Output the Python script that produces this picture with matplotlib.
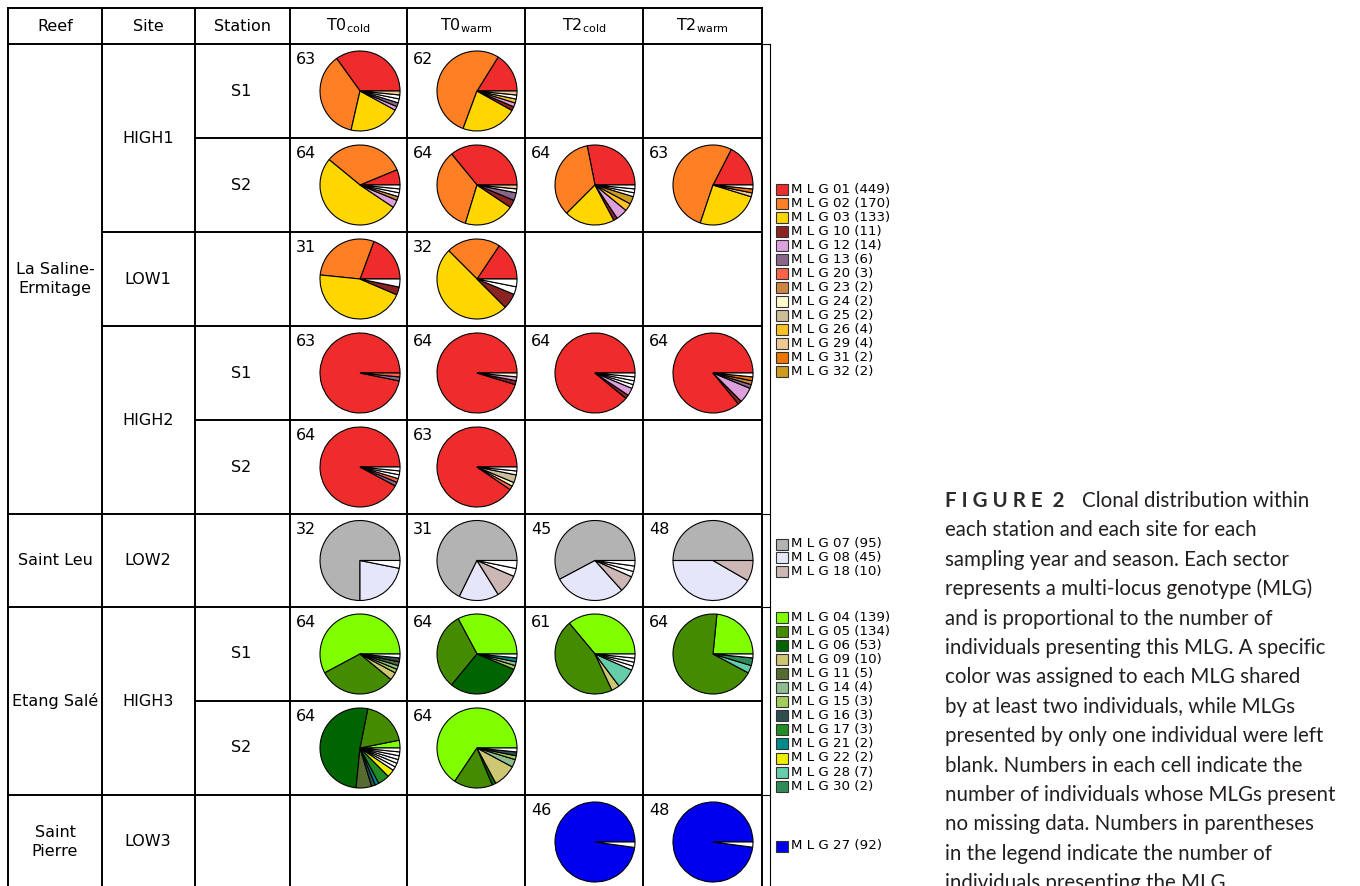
import matplotlib.pyplot as plt

W, H = 1360, 886

# ---- table text ----
col_titles = ["Reef", "Site", "Station", r"T0$_{\rm cold}$", r"T0$_{\rm warm}$",
              r"T2$_{\rm cold}$", r"T2$_{\rm warm}$"]
reefs = ["La Saline-\nErmitage", "Saint Leu", "Etang Salé", "Saint\nPierre"]
reef_spans = [(0, 5), (5, 6), (6, 8), (8, 9)]
sites = ["HIGH1", "LOW1", "HIGH2", "LOW2", "HIGH3", "LOW3"]
site_spans = [(0, 2), (2, 3), (3, 5), (5, 6), (6, 8), (8, 9)]
stations = ["S1", "S2", "", "S1", "S2", "", "S1", "S2", ""]

# ---- MLG colours and legend counts ----
mlg_colors = {
    "01": "#ee2c2c", "02": "#ff7f24", "03": "#ffd700", "10": "#8b2323",
    "12": "#dda0dd", "13": "#8b668b", "20": "#ff6347", "23": "#cd853f",
    "24": "#fffacd", "25": "#cdbe9a", "26": "#ffc125", "29": "#f0c896",
    "31": "#ee7600", "32": "#cd9b1d",
    "07": "#b3b3b3", "08": "#e6e6fa", "18": "#cdb7b5",
    "04": "#7fff00", "05": "#458b00", "06": "#006400", "09": "#cdc673",
    "11": "#556b2f", "14": "#8fbc8f", "15": "#a2cd5a", "16": "#2f4f4f",
    "17": "#228b22", "21": "#008b8b", "22": "#eeee00", "28": "#66cdaa",
    "30": "#2e8b57",
    "27": "#0000ee",
    "S": "white",   # MLG found in a single individual
}
legend_lasaline = [("01", 449), ("02", 170), ("03", 133), ("10", 11), ("12", 14),
                   ("13", 6), ("20", 3), ("23", 2), ("24", 2), ("25", 2),
                   ("26", 4), ("29", 4), ("31", 2), ("32", 2)]
legend_saintleu = [("07", 95), ("08", 45), ("18", 10)]
legend_etang = [("04", 139), ("05", 134), ("06", 53), ("09", 10), ("11", 5),
                ("14", 4), ("15", 3), ("16", 3), ("17", 3), ("21", 2),
                ("22", 2), ("28", 7), ("30", 2)]
legend_stpierre = [("27", 92)]

# ---- pie slices (counter-clockwise from 3 o'clock), "S" = singleton ----
high1_s1_t0c = [("01", 22), ("02", 23), ("03", 13), ("12", 1), ("13", 1), ("S", 1), ("S", 1), ("29", 1)]
high1_s1_t0w = [("01", 10), ("02", 33), ("03", 14), ("10", 1), ("12", 1), ("26", 1), ("S", 1), ("29", 1)]
high1_s2_t0c = [("01", 4), ("02", 21), ("03", 33), ("12", 2), ("23", 1), ("S", 1), ("S", 1), ("S", 1)]
high1_s2_t0w = [("01", 23), ("02", 22), ("03", 13), ("10", 2), ("13", 2), ("S", 1), ("29", 1)]
high1_s2_t2c = [("01", 18), ("02", 22), ("03", 13), ("10", 1), ("12", 3), ("26", 2), ("32", 2),
                ("S", 1), ("S", 1), ("S", 1)]
high1_s2_t2w = [("01", 11), ("02", 33), ("03", 16), ("29", 1), ("31", 1), ("S", 1)]
low1_t0c = [("01", 6), ("02", 9), ("03", 14), ("10", 1), ("S", 1)]
low1_t0w = [("01", 5), ("02", 7), ("03", 16), ("10", 2), ("S", 1), ("S", 1)]
high2_s1_t0c = [("01", 61), ("13", 1), ("20", 1)]
high2_s1_t0w = [("01", 61), ("10", 1), ("12", 1), ("24", 1)]
high2_s1_t2c = [("01", 57), ("10", 1), ("12", 2), ("S", 1), ("S", 1), ("S", 1), ("S", 1)]
high2_s1_t2w = [("01", 55), ("10", 1), ("12", 4), ("13", 1), ("23", 1), ("31", 1), ("S", 1)]
high2_s2_t0c = [("01", 59), ("13", 1), ("20", 1), ("S", 1), ("S", 1), ("S", 1)]
high2_s2_t0w = [("01", 57), ("20", 1), ("24", 1), ("25", 2), ("S", 1), ("S", 1)]
low2_t0c = [("07", 24), ("08", 7), ("S", 1)]
low2_t0w = [("07", 21), ("08", 5), ("18", 3), ("S", 1), ("S", 1)]
low2_t2c = [("07", 26), ("08", 13), ("18", 3), ("S", 1), ("S", 1), ("S", 1)]
low2_t2w = [("07", 24), ("08", 20), ("18", 4)]
high3_s1_t0c = [("04", 37), ("05", 20), ("09", 2), ("15", 1), ("14", 1), ("11", 1), ("16", 1), ("S", 1)]
high3_s1_t0w = [("04", 21), ("05", 20), ("06", 19), ("15", 1), ("14", 1), ("21", 1), ("S", 1)]
high3_s1_t2c = [("04", 22), ("05", 28), ("09", 2), ("28", 5), ("S", 1), ("S", 1), ("S", 1), ("S", 1)]
high3_s1_t2w = [("04", 15), ("05", 44), ("28", 2), ("30", 2), ("S", 1)]
high3_s2_t0c = [("04", 2), ("05", 12), ("06", 33), ("11", 4), ("16", 1), ("21", 1), ("17", 3), ("22", 2),
                ("S", 1), ("S", 1), ("S", 1), ("S", 1), ("S", 1), ("S", 1)]
high3_s2_t0w = [("04", 42), ("05", 10), ("06", 1), ("09", 6), ("14", 2), ("15", 1), ("16", 1), ("S", 1)]
low3_t2c = [("27", 45), ("S", 1)]
low3_t2w = [("27", 47), ("S", 1)]

# (row, sampling column) -> slices
cells = [
    (0, 0, high1_s1_t0c), (0, 1, high1_s1_t0w),
    (1, 0, high1_s2_t0c), (1, 1, high1_s2_t0w), (1, 2, high1_s2_t2c), (1, 3, high1_s2_t2w),
    (2, 0, low1_t0c), (2, 1, low1_t0w),
    (3, 0, high2_s1_t0c), (3, 1, high2_s1_t0w), (3, 2, high2_s1_t2c), (3, 3, high2_s1_t2w),
    (4, 0, high2_s2_t0c), (4, 1, high2_s2_t0w),
    (5, 0, low2_t0c), (5, 1, low2_t0w), (5, 2, low2_t2c), (5, 3, low2_t2w),
    (6, 0, high3_s1_t0c), (6, 1, high3_s1_t0w), (6, 2, high3_s1_t2c), (6, 3, high3_s1_t2w),
    (7, 0, high3_s2_t0c), (7, 1, high3_s2_t0w),
    (8, 2, low3_t2c), (8, 3, low3_t2w),
]

caption = [
    "each station and each site for each",
    "sampling year and season. Each sector",
    "represents a multi-locus genotype (MLG)",
    "and is proportional to the number of",
    "individuals presenting this MLG. A specific",
    "color was assigned to each MLG shared",
    "by at least two individuals, while MLGs",
    "presented by only one individual were left",
    "blank. Numbers in each cell indicate the",
    "number of individuals whose MLGs present",
    "no missing data. Numbers in parentheses",
    "in the legend indicate the number of",
    "individuals presenting the MLG.",
]

# ---- layout (pixels from top-left) ----
col_x = [8, 102, 195, 290, 407, 525, 643, 762]
row_y = [44, 138, 232, 326, 420, 514, 607, 701, 795, 889]
top = 8


def Y(py):
    return H - py


fig = plt.figure(figsize=(13.6, 8.86), dpi=100)
ax = fig.add_axes([0, 0, 1, 1])
lw = 1.4


def hline(y, x0, x1, **kw):
    ax.plot([x0, x1], [Y(y), Y(y)], color="black", lw=kw.get("lw", lw), solid_capstyle="projecting")


def vline(x, y0, y1, **kw):
    ax.plot([x, x], [Y(y0), Y(y1)], color="black", lw=kw.get("lw", lw), solid_capstyle="projecting")


# grid
hline(top, col_x[0], col_x[-1])
hline(row_y[0], col_x[0], col_x[-1])
for x in col_x:
    vline(x, top, H + 5)
for i in range(1, len(row_y) - 1):
    y = row_y[i]
    hline(y, col_x[2], col_x[-1])
    if any(e == i for _, e in site_spans):
        hline(y, col_x[1], col_x[2])
    if any(e == i for _, e in reef_spans):
        hline(y, col_x[0], col_x[1])

# bracket on the right
vline(770, row_y[0], H + 5, lw=0.8)
for y in [row_y[0], row_y[5], row_y[6], row_y[8]]:
    hline(y, 762, 770, lw=0.8)

# header
fs = 11.5
for j, t in enumerate(col_titles):
    ax.text((col_x[j] + col_x[j + 1]) / 2, Y(26), t, ha="center", va="center", fontsize=fs)

for name, (a, b) in zip(reefs, reef_spans):
    ax.text(55, Y((row_y[a] + row_y[b]) / 2), name, ha="center", va="center", fontsize=fs,
            linespacing=1.3)
for name, (a, b) in zip(sites, site_spans):
    ax.text(148, Y((row_y[a] + row_y[b]) / 2), name, ha="center", va="center", fontsize=fs)
for i, name in enumerate(stations):
    if name:
        ax.text(241, Y((row_y[i] + row_y[i + 1]) / 2), name, ha="center", va="center", fontsize=fs)

# pies
for r, c, slices in cells:
    counts = [n for _, n in slices]
    colors = [mlg_colors[k] for k, _ in slices]
    cx = col_x[3 + c] + 70
    cy = (row_y[r] + row_y[r + 1]) / 2 if r < 8 else 842
    ax.pie(counts, colors=colors, startangle=0, counterclock=True, radius=40,
           center=(cx, Y(cy)), frame=True,
           wedgeprops=dict(edgecolor="black", linewidth=0.8))
    ax.text(col_x[3 + c] + 6, Y(row_y[r] + 8), str(sum(counts)), ha="left", va="top", fontsize=fs)

# legends
legend_groups = [(legend_lasaline, 189, 14.0), (legend_saintleu, 544, 13.5),
                 (legend_etang, 617, 14.1), (legend_stpierre, 846, 14.0)]
for entries, y0, step in legend_groups:
    for k, (mlg, n) in enumerate(entries):
        y = y0 + k * step
        ax.add_patch(plt.Rectangle((776, Y(y) - 5.5), 12, 11, facecolor=mlg_colors[mlg],
                                   edgecolor="#333333", lw=0.8))
        ax.text(791, Y(y), f"M L G {mlg} ({n})", ha="left", va="center", fontsize=9.6)

# caption
cap_font = ["Lato", "DejaVu Sans"]
cap_fs = 14.8
ax.text(945, Y(501), "F I G U R E  2", family=cap_font, fontweight="bold",
        fontsize=cap_fs, color="#2b2b2b", ha="left", va="center")
ax.text(1082, Y(501), "Clonal distribution within", family=cap_font, fontsize=cap_fs,
        color="#231f20", ha="left", va="center")
for k, line in enumerate(caption):
    ax.text(945, Y(501 + (k + 1) * 29.4), line, family=cap_font, fontsize=cap_fs,
            color="#231f20", ha="left", va="center")

ax.set_xlim(0, W)
ax.set_ylim(0, H)
ax.set_aspect("auto")
ax.axis("off")
fig.savefig("out.png", dpi=100)
